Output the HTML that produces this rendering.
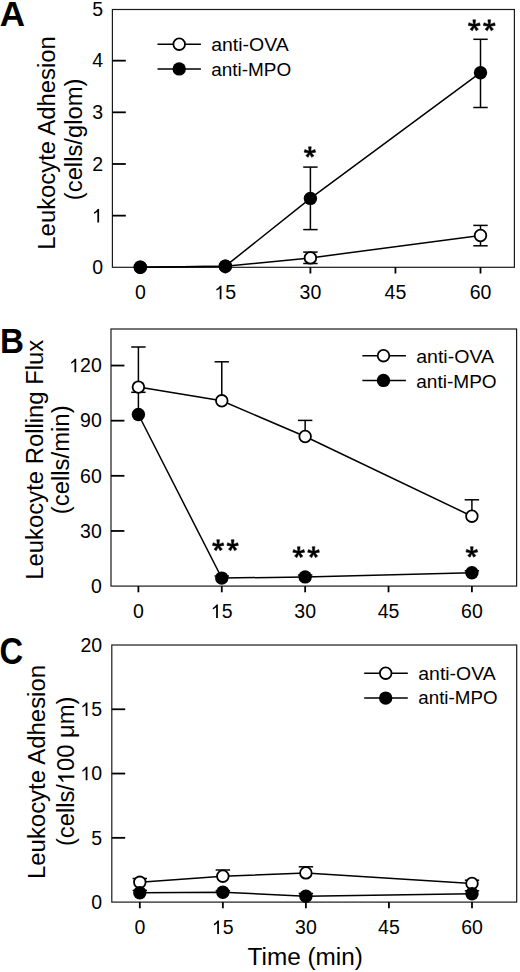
<!DOCTYPE html>
<html><head><meta charset="utf-8"><style>
html,body{margin:0;padding:0;background:#fff;}
svg{display:block;}
text{font-family:"Liberation Sans", sans-serif;fill:#000;}
.tl{font-size:19.5px;}
.lg{font-size:17.5px;}
.at{font-size:23.5px;}
.st{font-size:24px;font-weight:bold;}
.pl{font-size:35px;font-weight:bold;}
</style></head><body>
<svg width="520" height="972" viewBox="0 0 520 972">
<rect x="0" y="0" width="520" height="972" fill="#fff"/>
<rect x="112.4" y="9.5" width="402.0" height="257.8" fill="none" stroke="#1a1a1a" stroke-width="1.2"/>
<text x="92.16" y="274.10" class="tl">0</text>
<line x1="112.4" y1="215.64" x2="125.80000000000001" y2="215.64" stroke="#000" stroke-width="1.8"/>
<path transform="translate(92.16,222.44) scale(0.00952,-0.00952)" d="M545,0 L730,0 L730,1420 L580,1420 C480,1260 340,1135 195,1070 L195,905 C330,955 455,1040 545,1130 Z" fill="#000"/>
<line x1="112.4" y1="163.98" x2="125.80000000000001" y2="163.98" stroke="#000" stroke-width="1.8"/>
<text x="92.16" y="170.78" class="tl">2</text>
<line x1="112.4" y1="112.32" x2="125.80000000000001" y2="112.32" stroke="#000" stroke-width="1.8"/>
<text x="92.16" y="119.12" class="tl">3</text>
<line x1="112.4" y1="60.66" x2="125.80000000000001" y2="60.66" stroke="#000" stroke-width="1.8"/>
<text x="92.16" y="67.46" class="tl">4</text>
<text x="92.16" y="15.80" class="tl">5</text>
<line x1="140.30" y1="267.3" x2="140.30" y2="273.5" stroke="#000" stroke-width="1.8"/>
<text x="134.88" y="299.20" class="tl">0</text>
<line x1="225.35" y1="267.3" x2="225.35" y2="273.5" stroke="#000" stroke-width="1.8"/>
<path transform="translate(214.51,299.20) scale(0.00952,-0.00952)" d="M545,0 L730,0 L730,1420 L580,1420 C480,1260 340,1135 195,1070 L195,905 C330,955 455,1040 545,1130 Z" fill="#000"/>
<text x="225.35" y="299.20" class="tl">5</text>
<line x1="310.40" y1="267.3" x2="310.40" y2="273.5" stroke="#000" stroke-width="1.8"/>
<text x="299.56" y="299.20" class="tl">3</text>
<text x="310.40" y="299.20" class="tl">0</text>
<line x1="395.45" y1="267.3" x2="395.45" y2="273.5" stroke="#000" stroke-width="1.8"/>
<text x="384.61" y="299.20" class="tl">4</text>
<text x="395.45" y="299.20" class="tl">5</text>
<line x1="480.50" y1="267.3" x2="480.50" y2="273.5" stroke="#000" stroke-width="1.8"/>
<text x="469.66" y="299.20" class="tl">6</text>
<text x="480.50" y="299.20" class="tl">0</text>
<path d="M140.30,267.30 L225.35,266.27 L310.40,257.90 L480.50,235.50" fill="none" stroke="#000" stroke-width="1.5"/>
<path d="M140.30,267.30 L225.35,266.20 L310.40,198.40 L480.50,72.70" fill="none" stroke="#000" stroke-width="1.5"/>
<line x1="310.40" y1="257.90" x2="310.40" y2="252.10" stroke="#000" stroke-width="1.5"/>
<line x1="303.20" y1="252.10" x2="317.60" y2="252.10" stroke="#000" stroke-width="1.5"/>
<line x1="310.40" y1="257.90" x2="310.40" y2="263.50" stroke="#000" stroke-width="1.5"/>
<line x1="303.20" y1="263.50" x2="317.60" y2="263.50" stroke="#000" stroke-width="1.5"/>
<line x1="480.50" y1="235.50" x2="480.50" y2="225.40" stroke="#000" stroke-width="1.5"/>
<line x1="473.30" y1="225.40" x2="487.70" y2="225.40" stroke="#000" stroke-width="1.5"/>
<line x1="480.50" y1="235.50" x2="480.50" y2="245.80" stroke="#000" stroke-width="1.5"/>
<line x1="473.30" y1="245.80" x2="487.70" y2="245.80" stroke="#000" stroke-width="1.5"/>
<line x1="310.40" y1="198.40" x2="310.40" y2="167.10" stroke="#000" stroke-width="1.5"/>
<line x1="303.20" y1="167.10" x2="317.60" y2="167.10" stroke="#000" stroke-width="1.5"/>
<line x1="310.40" y1="198.40" x2="310.40" y2="229.60" stroke="#000" stroke-width="1.5"/>
<line x1="303.20" y1="229.60" x2="317.60" y2="229.60" stroke="#000" stroke-width="1.5"/>
<line x1="480.50" y1="72.70" x2="480.50" y2="39.30" stroke="#000" stroke-width="1.5"/>
<line x1="473.30" y1="39.30" x2="487.70" y2="39.30" stroke="#000" stroke-width="1.5"/>
<line x1="480.50" y1="72.70" x2="480.50" y2="107.50" stroke="#000" stroke-width="1.5"/>
<line x1="473.30" y1="107.50" x2="487.70" y2="107.50" stroke="#000" stroke-width="1.5"/>
<circle cx="140.30" cy="267.30" r="5.80" fill="#fff" stroke="#000" stroke-width="1.8"/>
<circle cx="225.35" cy="266.27" r="5.80" fill="#fff" stroke="#000" stroke-width="1.8"/>
<circle cx="310.40" cy="257.90" r="5.80" fill="#fff" stroke="#000" stroke-width="1.8"/>
<circle cx="480.50" cy="235.50" r="5.80" fill="#fff" stroke="#000" stroke-width="1.8"/>
<circle cx="140.30" cy="267.30" r="6.7" fill="#000"/>
<circle cx="225.35" cy="266.20" r="6.7" fill="#000"/>
<circle cx="310.40" cy="198.40" r="6.7" fill="#000"/>
<circle cx="480.50" cy="72.70" r="6.7" fill="#000"/>
<line x1="157.5" y1="44.2" x2="200.9" y2="44.2" stroke="#000" stroke-width="1.5"/>
<circle cx="179.20" cy="44.20" r="5.80" fill="#fff" stroke="#000" stroke-width="1.8"/>
<line x1="157.5" y1="68.9" x2="200.9" y2="68.9" stroke="#000" stroke-width="1.5"/>
<circle cx="179.20" cy="68.90" r="6.7" fill="#000"/>
<text x="211.2" y="51.3" class="lg" textLength="77.5" lengthAdjust="spacingAndGlyphs">anti-OVA</text>
<text x="211.2" y="75.6" class="lg" textLength="80" lengthAdjust="spacingAndGlyphs">anti-MPO</text>
<rect x="111.0" y="329.0" width="405.6" height="257.1" fill="none" stroke="#1a1a1a" stroke-width="1.2"/>
<text x="90.96" y="592.90" class="tl">0</text>
<line x1="111.0" y1="530.96" x2="124.4" y2="530.96" stroke="#000" stroke-width="1.8"/>
<text x="80.11" y="537.76" class="tl">3</text>
<text x="90.96" y="537.76" class="tl">0</text>
<line x1="111.0" y1="475.82" x2="124.4" y2="475.82" stroke="#000" stroke-width="1.8"/>
<text x="80.11" y="482.62" class="tl">6</text>
<text x="90.96" y="482.62" class="tl">0</text>
<line x1="111.0" y1="420.68" x2="124.4" y2="420.68" stroke="#000" stroke-width="1.8"/>
<text x="80.11" y="427.48" class="tl">9</text>
<text x="90.96" y="427.48" class="tl">0</text>
<line x1="111.0" y1="365.54" x2="124.4" y2="365.54" stroke="#000" stroke-width="1.8"/>
<path transform="translate(69.27,372.34) scale(0.00952,-0.00952)" d="M545,0 L730,0 L730,1420 L580,1420 C480,1260 340,1135 195,1070 L195,905 C330,955 455,1040 545,1130 Z" fill="#000"/>
<text x="80.11" y="372.34" class="tl">2</text>
<text x="90.96" y="372.34" class="tl">0</text>
<line x1="138.40" y1="586.1" x2="138.40" y2="592.3000000000001" stroke="#000" stroke-width="1.8"/>
<text x="132.98" y="618.10" class="tl">0</text>
<line x1="221.78" y1="586.1" x2="221.78" y2="592.3000000000001" stroke="#000" stroke-width="1.8"/>
<path transform="translate(210.93,618.10) scale(0.00952,-0.00952)" d="M545,0 L730,0 L730,1420 L580,1420 C480,1260 340,1135 195,1070 L195,905 C330,955 455,1040 545,1130 Z" fill="#000"/>
<text x="221.78" y="618.10" class="tl">5</text>
<line x1="305.15" y1="586.1" x2="305.15" y2="592.3000000000001" stroke="#000" stroke-width="1.8"/>
<text x="294.31" y="618.10" class="tl">3</text>
<text x="305.15" y="618.10" class="tl">0</text>
<line x1="388.52" y1="586.1" x2="388.52" y2="592.3000000000001" stroke="#000" stroke-width="1.8"/>
<text x="377.68" y="618.10" class="tl">4</text>
<text x="388.52" y="618.10" class="tl">5</text>
<line x1="471.90" y1="586.1" x2="471.90" y2="592.3000000000001" stroke="#000" stroke-width="1.8"/>
<text x="461.06" y="618.10" class="tl">6</text>
<text x="471.90" y="618.10" class="tl">0</text>
<path d="M138.40,387.10 L221.78,400.80 L305.15,436.50 L471.90,516.20" fill="none" stroke="#000" stroke-width="1.5"/>
<path d="M138.40,414.50 L221.78,578.10 L305.15,576.90 L471.90,572.70" fill="none" stroke="#000" stroke-width="1.5"/>
<line x1="138.40" y1="387.10" x2="138.40" y2="347.00" stroke="#000" stroke-width="1.5"/>
<line x1="131.20" y1="347.00" x2="145.60" y2="347.00" stroke="#000" stroke-width="1.5"/>
<line x1="221.78" y1="400.80" x2="221.78" y2="361.80" stroke="#000" stroke-width="1.5"/>
<line x1="214.58" y1="361.80" x2="228.97" y2="361.80" stroke="#000" stroke-width="1.5"/>
<line x1="305.15" y1="436.50" x2="305.15" y2="420.40" stroke="#000" stroke-width="1.5"/>
<line x1="297.95" y1="420.40" x2="312.35" y2="420.40" stroke="#000" stroke-width="1.5"/>
<line x1="471.90" y1="516.20" x2="471.90" y2="499.80" stroke="#000" stroke-width="1.5"/>
<line x1="464.70" y1="499.80" x2="479.10" y2="499.80" stroke="#000" stroke-width="1.5"/>
<line x1="138.40" y1="414.50" x2="138.40" y2="392.30" stroke="#000" stroke-width="1.5"/>
<line x1="131.20" y1="392.30" x2="145.60" y2="392.30" stroke="#000" stroke-width="1.5"/>
<line x1="221.78" y1="578.10" x2="221.78" y2="576.00" stroke="#000" stroke-width="1.5"/>
<line x1="214.58" y1="576.00" x2="228.97" y2="576.00" stroke="#000" stroke-width="1.5"/>
<line x1="305.15" y1="576.90" x2="305.15" y2="575.00" stroke="#000" stroke-width="1.5"/>
<line x1="297.95" y1="575.00" x2="312.35" y2="575.00" stroke="#000" stroke-width="1.5"/>
<line x1="471.90" y1="572.70" x2="471.90" y2="570.80" stroke="#000" stroke-width="1.5"/>
<line x1="464.70" y1="570.80" x2="479.10" y2="570.80" stroke="#000" stroke-width="1.5"/>
<circle cx="138.40" cy="387.10" r="5.80" fill="#fff" stroke="#000" stroke-width="1.8"/>
<circle cx="221.78" cy="400.80" r="5.80" fill="#fff" stroke="#000" stroke-width="1.8"/>
<circle cx="305.15" cy="436.50" r="5.80" fill="#fff" stroke="#000" stroke-width="1.8"/>
<circle cx="471.90" cy="516.20" r="5.80" fill="#fff" stroke="#000" stroke-width="1.8"/>
<circle cx="138.40" cy="414.50" r="6.7" fill="#000"/>
<circle cx="221.78" cy="578.10" r="6.7" fill="#000"/>
<circle cx="305.15" cy="576.90" r="6.7" fill="#000"/>
<circle cx="471.90" cy="572.70" r="6.7" fill="#000"/>
<line x1="362.4" y1="355.7" x2="405.9" y2="355.7" stroke="#000" stroke-width="1.5"/>
<circle cx="383.50" cy="355.70" r="5.80" fill="#fff" stroke="#000" stroke-width="1.8"/>
<line x1="362.4" y1="380.4" x2="405.9" y2="380.4" stroke="#000" stroke-width="1.5"/>
<circle cx="383.50" cy="380.40" r="6.7" fill="#000"/>
<text x="416.2" y="363.3" class="lg" textLength="77.8" lengthAdjust="spacingAndGlyphs">anti-OVA</text>
<text x="416.2" y="388.0" class="lg" textLength="80.5" lengthAdjust="spacingAndGlyphs">anti-MPO</text>
<rect x="111.8" y="645.0" width="404.90000000000003" height="257.1" fill="none" stroke="#1a1a1a" stroke-width="1.2"/>
<text x="91.36" y="908.90" class="tl">0</text>
<line x1="111.8" y1="837.83" x2="125.2" y2="837.83" stroke="#000" stroke-width="1.8"/>
<text x="91.36" y="844.62" class="tl">5</text>
<line x1="111.8" y1="773.55" x2="125.2" y2="773.55" stroke="#000" stroke-width="1.8"/>
<path transform="translate(80.51,780.35) scale(0.00952,-0.00952)" d="M545,0 L730,0 L730,1420 L580,1420 C480,1260 340,1135 195,1070 L195,905 C330,955 455,1040 545,1130 Z" fill="#000"/>
<text x="91.36" y="780.35" class="tl">0</text>
<line x1="111.8" y1="709.27" x2="125.2" y2="709.27" stroke="#000" stroke-width="1.8"/>
<path transform="translate(80.51,716.07) scale(0.00952,-0.00952)" d="M545,0 L730,0 L730,1420 L580,1420 C480,1260 340,1135 195,1070 L195,905 C330,955 455,1040 545,1130 Z" fill="#000"/>
<text x="91.36" y="716.07" class="tl">5</text>
<text x="80.51" y="651.80" class="tl">2</text>
<text x="91.36" y="651.80" class="tl">0</text>
<line x1="139.80" y1="902.1" x2="139.80" y2="908.3000000000001" stroke="#000" stroke-width="1.8"/>
<text x="134.38" y="934.00" class="tl">0</text>
<line x1="222.85" y1="902.1" x2="222.85" y2="908.3000000000001" stroke="#000" stroke-width="1.8"/>
<path transform="translate(212.01,934.00) scale(0.00952,-0.00952)" d="M545,0 L730,0 L730,1420 L580,1420 C480,1260 340,1135 195,1070 L195,905 C330,955 455,1040 545,1130 Z" fill="#000"/>
<text x="222.85" y="934.00" class="tl">5</text>
<line x1="305.90" y1="902.1" x2="305.90" y2="908.3000000000001" stroke="#000" stroke-width="1.8"/>
<text x="295.06" y="934.00" class="tl">3</text>
<text x="305.90" y="934.00" class="tl">0</text>
<line x1="388.95" y1="902.1" x2="388.95" y2="908.3000000000001" stroke="#000" stroke-width="1.8"/>
<text x="378.11" y="934.00" class="tl">4</text>
<text x="388.95" y="934.00" class="tl">5</text>
<line x1="472.00" y1="902.1" x2="472.00" y2="908.3000000000001" stroke="#000" stroke-width="1.8"/>
<text x="461.16" y="934.00" class="tl">6</text>
<text x="472.00" y="934.00" class="tl">0</text>
<path d="M139.80,882.30 L222.85,876.20 L305.90,872.90 L472.00,883.50" fill="none" stroke="#000" stroke-width="1.5"/>
<path d="M139.80,892.70 L222.85,892.30 L305.90,896.20 L472.00,893.80" fill="none" stroke="#000" stroke-width="1.5"/>
<line x1="139.80" y1="882.30" x2="139.80" y2="878.50" stroke="#000" stroke-width="1.5"/>
<line x1="132.60" y1="878.50" x2="147.00" y2="878.50" stroke="#000" stroke-width="1.5"/>
<line x1="222.85" y1="876.20" x2="222.85" y2="870.00" stroke="#000" stroke-width="1.5"/>
<line x1="215.65" y1="870.00" x2="230.05" y2="870.00" stroke="#000" stroke-width="1.5"/>
<line x1="305.90" y1="872.90" x2="305.90" y2="866.80" stroke="#000" stroke-width="1.5"/>
<line x1="298.70" y1="866.80" x2="313.10" y2="866.80" stroke="#000" stroke-width="1.5"/>
<line x1="472.00" y1="883.50" x2="472.00" y2="880.20" stroke="#000" stroke-width="1.5"/>
<line x1="464.80" y1="880.20" x2="479.20" y2="880.20" stroke="#000" stroke-width="1.5"/>
<line x1="139.80" y1="892.70" x2="139.80" y2="890.40" stroke="#000" stroke-width="1.5"/>
<line x1="132.60" y1="890.40" x2="147.00" y2="890.40" stroke="#000" stroke-width="1.5"/>
<line x1="222.85" y1="892.30" x2="222.85" y2="890.80" stroke="#000" stroke-width="1.5"/>
<line x1="215.65" y1="890.80" x2="230.05" y2="890.80" stroke="#000" stroke-width="1.5"/>
<line x1="305.90" y1="896.20" x2="305.90" y2="893.50" stroke="#000" stroke-width="1.5"/>
<line x1="298.70" y1="893.50" x2="313.10" y2="893.50" stroke="#000" stroke-width="1.5"/>
<line x1="472.00" y1="893.80" x2="472.00" y2="890.80" stroke="#000" stroke-width="1.5"/>
<line x1="464.80" y1="890.80" x2="479.20" y2="890.80" stroke="#000" stroke-width="1.5"/>
<circle cx="139.80" cy="882.30" r="5.80" fill="#fff" stroke="#000" stroke-width="1.8"/>
<circle cx="222.85" cy="876.20" r="5.80" fill="#fff" stroke="#000" stroke-width="1.8"/>
<circle cx="305.90" cy="872.90" r="5.80" fill="#fff" stroke="#000" stroke-width="1.8"/>
<circle cx="472.00" cy="883.50" r="5.80" fill="#fff" stroke="#000" stroke-width="1.8"/>
<circle cx="139.80" cy="892.70" r="6.7" fill="#000"/>
<circle cx="222.85" cy="892.30" r="6.7" fill="#000"/>
<circle cx="305.90" cy="896.20" r="6.7" fill="#000"/>
<circle cx="472.00" cy="893.80" r="6.7" fill="#000"/>
<line x1="364.2" y1="673.2" x2="407.8" y2="673.2" stroke="#000" stroke-width="1.5"/>
<circle cx="385.70" cy="673.20" r="5.80" fill="#fff" stroke="#000" stroke-width="1.8"/>
<line x1="364.2" y1="698.1" x2="407.8" y2="698.1" stroke="#000" stroke-width="1.5"/>
<circle cx="385.70" cy="698.10" r="6.7" fill="#000"/>
<text x="418.3" y="680.0" class="lg" textLength="77.3" lengthAdjust="spacingAndGlyphs">anti-OVA</text>
<text x="418.3" y="704.3" class="lg" textLength="79.2" lengthAdjust="spacingAndGlyphs">anti-MPO</text>
<g fill="#000" stroke="#000" stroke-width="0.5" stroke-linejoin="round"><path d="M310.65,152.29 L311.30,146.80 L308.50,146.80 L309.15,152.29 Z"/><path d="M310.09,153.01 L315.68,152.19 L314.95,149.48 L309.71,151.56 Z"/><path d="M310.09,151.56 L304.85,149.48 L304.12,152.19 L309.71,153.01 Z"/><path d="M309.28,152.71 L311.64,157.37 L313.96,155.80 L310.52,151.87 Z"/><path d="M309.28,151.87 L305.84,155.80 L308.16,157.37 L310.52,152.71 Z"/><circle cx="309.90" cy="152.29" r="0.98"/></g>
<g fill="#000" stroke="#000" stroke-width="0.5" stroke-linejoin="round"><path d="M474.98,25.57 L475.62,19.80 L472.83,19.80 L473.48,25.57 Z"/><path d="M474.42,26.29 L480.23,25.41 L479.50,22.70 L474.03,24.84 Z"/><path d="M474.42,24.84 L468.95,22.70 L468.22,25.41 L474.03,26.29 Z"/><path d="M473.60,25.98 L476.11,30.87 L478.43,29.30 L474.85,25.15 Z"/><path d="M473.60,25.15 L470.02,29.30 L472.34,30.87 L474.85,25.98 Z"/><circle cx="474.23" cy="25.57" r="0.98"/></g>
<g fill="#000" stroke="#000" stroke-width="0.5" stroke-linejoin="round"><path d="M490.02,25.57 L490.67,19.80 L487.88,19.80 L488.52,25.57 Z"/><path d="M489.47,26.29 L495.28,25.41 L494.55,22.70 L489.08,24.84 Z"/><path d="M489.47,24.84 L484.00,22.70 L483.27,25.41 L489.08,26.29 Z"/><path d="M488.65,25.98 L491.16,30.87 L493.48,29.30 L489.90,25.15 Z"/><path d="M488.65,25.15 L485.07,29.30 L487.39,30.87 L489.90,25.98 Z"/><circle cx="489.27" cy="25.57" r="0.98"/></g>
<g fill="#000" stroke="#000" stroke-width="0.5" stroke-linejoin="round"><path d="M218.90,545.47 L219.55,539.70 L216.75,539.70 L217.40,545.47 Z"/><path d="M218.34,546.19 L223.88,545.38 L223.15,542.68 L217.96,544.74 Z"/><path d="M218.34,544.74 L213.15,542.68 L212.42,545.38 L217.96,546.19 Z"/><path d="M217.53,545.88 L220.04,550.77 L222.36,549.20 L218.77,545.05 Z"/><path d="M217.53,545.05 L213.94,549.20 L216.26,550.77 L218.77,545.88 Z"/><circle cx="218.15" cy="545.47" r="0.98"/></g>
<g fill="#000" stroke="#000" stroke-width="0.5" stroke-linejoin="round"><path d="M233.40,545.47 L234.05,539.70 L231.25,539.70 L231.90,545.47 Z"/><path d="M232.84,546.19 L238.38,545.38 L237.65,542.68 L232.46,544.74 Z"/><path d="M232.84,544.74 L227.65,542.68 L226.92,545.38 L232.46,546.19 Z"/><path d="M232.03,545.88 L234.54,550.77 L236.86,549.20 L233.27,545.05 Z"/><path d="M232.03,545.05 L228.44,549.20 L230.76,550.77 L233.27,545.88 Z"/><circle cx="232.65" cy="545.47" r="0.98"/></g>
<g fill="#000" stroke="#000" stroke-width="0.5" stroke-linejoin="round"><path d="M299.48,552.41 L300.12,546.70 L297.33,546.70 L297.98,552.41 Z"/><path d="M298.92,553.13 L304.63,552.28 L303.90,549.57 L298.53,551.69 Z"/><path d="M298.92,551.69 L293.55,549.57 L292.82,552.28 L298.53,553.13 Z"/><path d="M298.10,552.83 L300.58,557.67 L302.90,556.10 L299.35,551.99 Z"/><path d="M298.10,551.99 L294.55,556.10 L296.87,557.67 L299.35,552.83 Z"/><circle cx="298.73" cy="552.41" r="0.98"/></g>
<g fill="#000" stroke="#000" stroke-width="0.5" stroke-linejoin="round"><path d="M314.32,552.41 L314.97,546.70 L312.18,546.70 L312.82,552.41 Z"/><path d="M313.77,553.13 L319.48,552.28 L318.75,549.57 L313.38,551.69 Z"/><path d="M313.77,551.69 L308.40,549.57 L307.67,552.28 L313.38,553.13 Z"/><path d="M312.95,552.83 L315.43,557.67 L317.75,556.10 L314.20,551.99 Z"/><path d="M312.95,551.99 L309.40,556.10 L311.72,557.67 L314.20,552.83 Z"/><circle cx="313.57" cy="552.41" r="0.98"/></g>
<g fill="#000" stroke="#000" stroke-width="0.5" stroke-linejoin="round"><path d="M472.55,552.19 L473.20,546.70 L470.40,546.70 L471.05,552.19 Z"/><path d="M471.99,552.91 L477.68,552.06 L476.95,549.36 L471.61,551.46 Z"/><path d="M471.99,551.46 L466.65,549.36 L465.92,552.06 L471.61,552.91 Z"/><path d="M471.18,552.61 L473.54,557.27 L475.86,555.70 L472.42,551.77 Z"/><path d="M471.18,551.77 L467.74,555.70 L470.06,557.27 L472.42,552.61 Z"/><circle cx="471.80" cy="552.19" r="0.98"/></g>
<text transform="translate(55.1,142.9) rotate(-90)" x="0" y="0" text-anchor="middle" class="at" textLength="213.5" lengthAdjust="spacingAndGlyphs">Leukocyte Adhesion</text>
<text transform="translate(81.7,139.4) rotate(-90)" x="0" y="0" text-anchor="middle" class="at" textLength="121.5" lengthAdjust="spacingAndGlyphs">(cells/glom)</text>
<text transform="translate(42.8,459.7) rotate(-90)" x="0" y="0" text-anchor="middle" class="at" textLength="240.0" lengthAdjust="spacingAndGlyphs">Leukocyte Rolling Flux</text>
<text transform="translate(68.5,459.8) rotate(-90)" x="0" y="0" text-anchor="middle" class="at" textLength="108.8" lengthAdjust="spacingAndGlyphs">(cells/min)</text>
<text transform="translate(44.8,772.0) rotate(-90)" x="0" y="0" text-anchor="middle" class="at" textLength="214.0" lengthAdjust="spacingAndGlyphs">Leukocyte Adhesion</text>
<g transform="translate(74.3,771.3) rotate(-90)"><text x="0" y="0" text-anchor="middle" class="at" textLength="149.5" lengthAdjust="spacingAndGlyphs">(cells/ 00 μm)</text><path transform="translate(-12.781,0) scale(0.011587,-0.011475)" d="M545,0 L730,0 L730,1420 L580,1420 C480,1260 340,1135 195,1070 L195,905 C330,955 455,1040 545,1130 Z" fill="#000"/></g>
<text x="305.2" y="964.6" text-anchor="middle" class="at" textLength="115.3" lengthAdjust="spacingAndGlyphs">Time (min)</text>
<text x="-0.3" y="25.6" class="pl">A</text>
<text transform="translate(0.1,352.5) scale(0.95,1.0)" x="0" y="0" class="pl">B</text>
<text transform="translate(-0.4,663.55) scale(0.935,1.05)" x="0" y="0" class="pl">C</text>
</svg>
</body></html>
